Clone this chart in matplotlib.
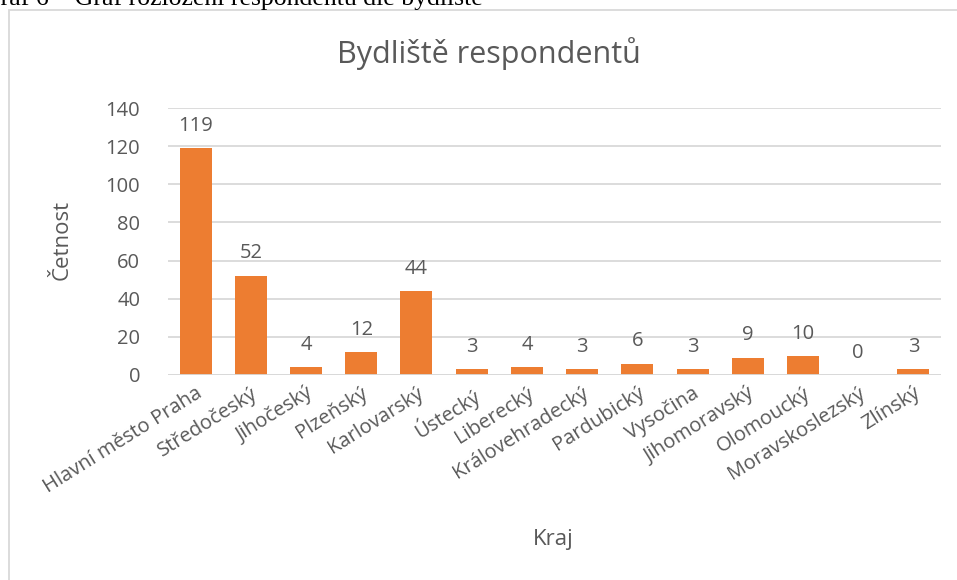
import matplotlib.pyplot as plt
from matplotlib.patches import Rectangle

kraje = ["Hlavní město Praha", "Středočeský", "Jihočeský", "Plzeňský", "Karlovarský",
         "Ústecký", "Liberecký", "Královehradecký", "Pardubický", "Vysočina",
         "Jihomoravský", "Olomoucký", "Moravskoslezský", "Zlínský"]
pocty = [119, 52, 4, 12, 44, 3, 4, 3, 6, 3, 9, 10, 0, 3]
y_ticks = [0, 20, 40, 60, 80, 100, 120, 140]

text_col = "#595959"
font = "Open Sans"

W, H = 957, 580
fig = plt.figure(figsize=(W / 100, H / 100), dpi=100)

# ramecek grafu (oriznuty vpravo a dole)
fig.patches.append(Rectangle((9 / W, -0.1), 1.0, 1 - 10 / H + 0.1, transform=fig.transFigure,
                             fill=False, edgecolor="#d9d9d9", linewidth=1.3))
# popisek nad grafem, zcasti oriznuty
fig.text(-18 / W, 1 - 5 / H, "Graf 6 – Graf rozložení respondentů dle bydliště",
         family="Liberation Serif", fontsize=18.5, ha="left", va="baseline", color="black")

ax = fig.add_axes([168 / W, 1 - 375 / H, (941 - 168) / W, (375 - 108) / H])
x = range(len(kraje))
ax.bar(x, pocty, width=0.58, color="#ED7D31", zorder=3)
for xi, v in zip(x, pocty):
    ax.text(xi, v + 6.5, str(v), ha="center", va="bottom", fontsize=14.5, color=text_col, family=font)

ax.set_xlim(-0.5, len(kraje) - 0.5)
ax.set_ylim(0, 140)
ax.set_yticks(y_ticks)
ax.grid(axis="y", color="#d9d9d9", linewidth=1.3, zorder=0)
for s in ax.spines.values():
    s.set_visible(False)
ax.axhline(0, color="#d9d9d9", linewidth=1.3, zorder=4)
ax.tick_params(length=0, colors=text_col, labelsize=14.5)
ax.tick_params(axis="y", pad=20)
ax.tick_params(axis="x", pad=6)
ax.set_xticks(list(x))
ax.set_xticklabels(kraje, rotation=32, ha="right", rotation_mode="anchor", family=font)
for lab in ax.get_yticklabels():
    lab.set_family(font)

fig.text(62 / W, 1 - 240 / H, "Četnost", rotation=90, ha="center", va="center",
         fontsize=16, color=text_col, family=font)
fig.text(553 / W, 1 - 540 / H, "Kraj", ha="center", va="center",
         fontsize=16, color=text_col, family=font)
fig.text(489 / W, 1 - 63 / H, "Bydliště respondentů", ha="center", va="baseline",
         fontsize=22, color=text_col, family=font)

fig.savefig("out.png", dpi=100)
